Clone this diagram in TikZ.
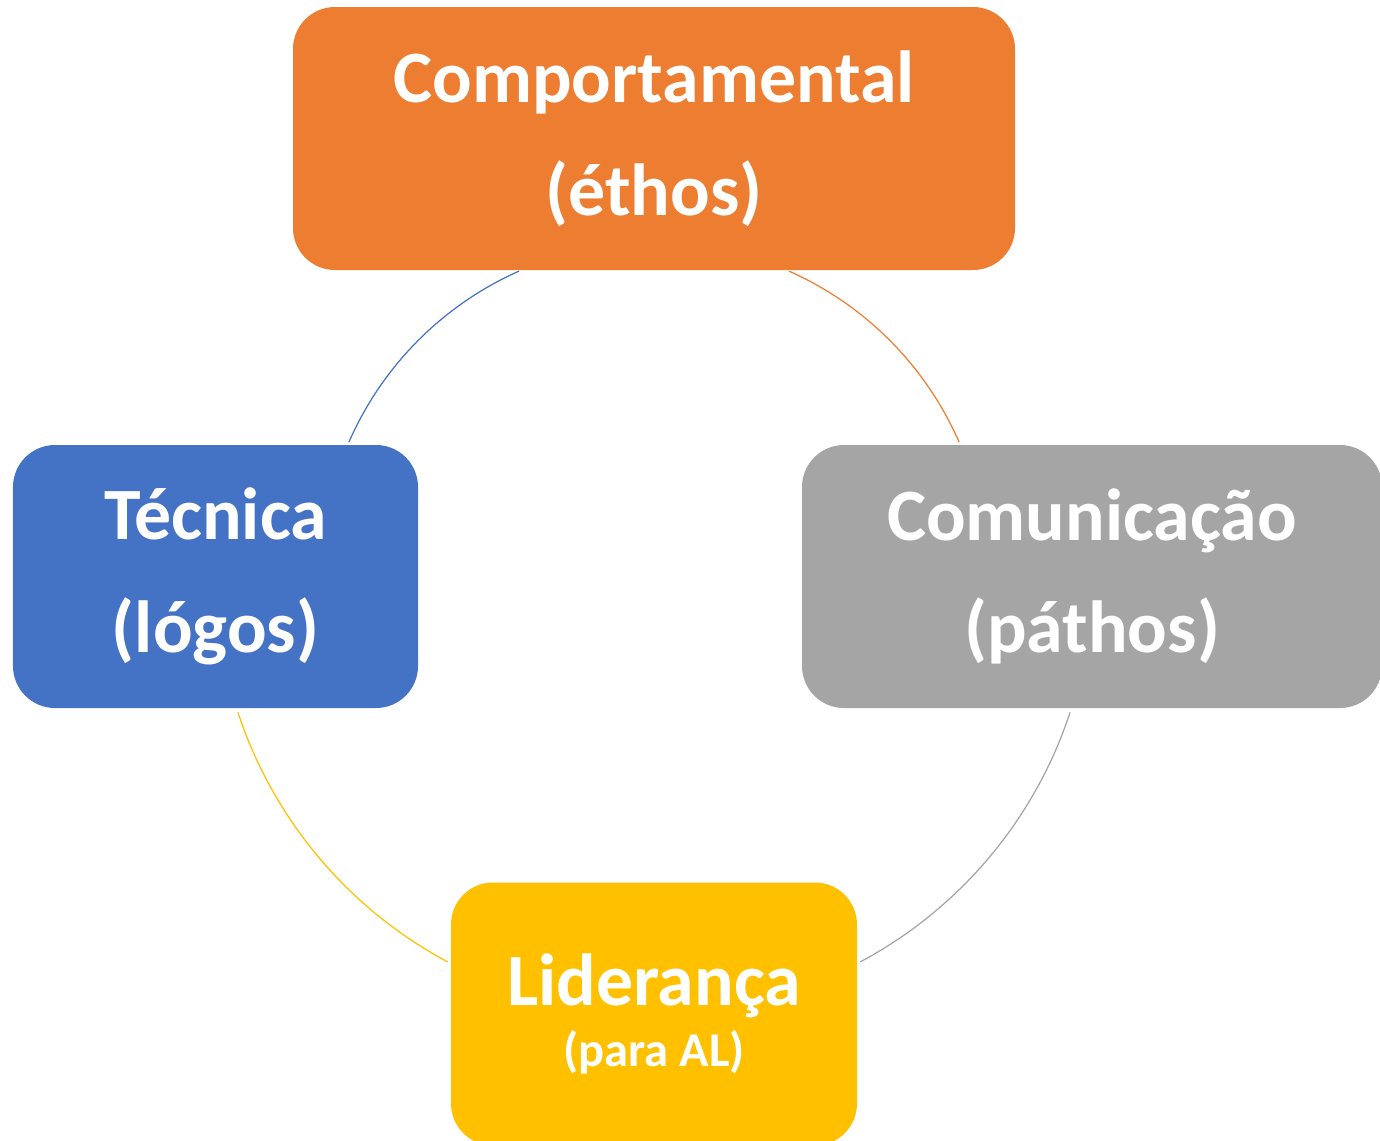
\documentclass[tikz,border=0pt]{standalone}
\usepackage{fontspec}
\setmainfont{Carlito}
\usepackage{xcolor}

\definecolor{compcolor}{HTML}{ED7D31}
\definecolor{teccolor}{HTML}{4472C4}
\definecolor{comucolor}{HTML}{A5A5A5}
\definecolor{lidcolor}{HTML}{FFC000}

\tikzset{
  block/.style={rectangle, rounded corners=0.42cm, inner sep=0pt, minimum height=2.63cm,
    text=white, align=center, font=\fontsize{21}{32}\selectfont\bfseries},
  ring/.style={line width=0.35pt}
}

\begin{document}
\begin{tikzpicture}
\useasboundingbox (0,0) rectangle (13.8cm,-11.4cm);
\clip (0,0) rectangle (13.8cm,-11.4cm);

\coordinate (mid) at (6.54cm,-5.755cm);

\draw (6.54cm,-1.385cm)  node (comp) [block, fill=compcolor, minimum width=7.22cm] {Comportamental\\(éthos)};
\draw (2.155cm,-5.765cm) node (tec)  [block, fill=teccolor, minimum width=4.05cm]  {Técnica\\(lógos)};
\draw (10.92cm,-5.765cm) node (comu) [block, fill=comucolor, minimum width=5.8cm]  {Comunicação\\(páthos)};
\draw (6.54cm,-10.14cm)  node (lid)  [block, fill=lidcolor, minimum width=4.06cm, font=\fontsize{21}{17.5}\selectfont\bfseries]
  {Liderança\\{\fontsize{13.8}{17.5}\selectfont(para AL)}};

\draw[ring, teccolor]  (mid) ++(113.9:3.33cm) arc[start angle=113.9, end angle=156.4, radius=3.33cm];
\draw[ring, compcolor] (mid) ++(66.1:3.33cm)  arc[start angle=66.1, end angle=23.6, radius=3.33cm];
\draw[ring, comucolor] (mid) ++(-18.2:4.38cm) arc[start angle=-18.2, end angle=-61.9, radius=4.38cm];
\draw[ring, lidcolor]  (mid) ++(198.2:4.38cm) arc[start angle=198.2, end angle=241.9, radius=4.38cm];

\end{tikzpicture}
\end{document}
